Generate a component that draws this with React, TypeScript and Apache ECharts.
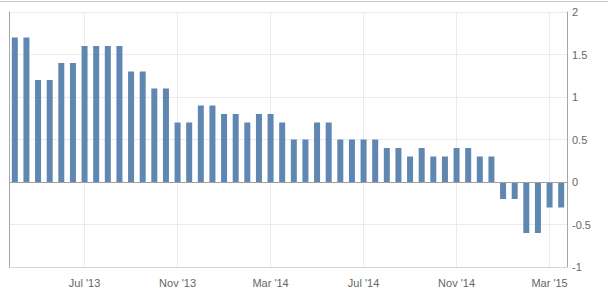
import React, { useEffect, useRef } from "react";
import * as echarts from "echarts";

const categories = [
  "2013-04-01", "2013-04-16", "2013-05-01", "2013-05-16", "2013-06-01", "2013-06-16",
  "2013-07-01", "2013-07-16", "2013-08-01", "2013-08-16", "2013-09-01", "2013-09-16",
  "2013-10-01", "2013-10-16", "2013-11-01", "2013-11-16", "2013-12-01", "2013-12-16",
  "2014-01-01", "2014-01-16", "2014-02-01", "2014-02-16", "2014-03-01", "2014-03-16",
  "2014-04-01", "2014-04-16", "2014-05-01", "2014-05-16", "2014-06-01", "2014-06-16",
  "2014-07-01", "2014-07-16", "2014-08-01", "2014-08-16", "2014-09-01", "2014-09-16",
  "2014-10-01", "2014-10-16", "2014-11-01", "2014-11-16", "2014-12-01", "2014-12-16",
  "2015-01-01", "2015-01-16", "2015-02-01", "2015-02-16", "2015-03-01", "2015-03-16",
];

const values = [
  1.7, 1.7, 1.2, 1.2, 1.4, 1.4,
  1.6, 1.6, 1.6, 1.6, 1.3, 1.3,
  1.1, 1.1, 0.7, 0.7, 0.9, 0.9,
  0.8, 0.8, 0.7, 0.8, 0.8, 0.7,
  0.5, 0.5, 0.7, 0.7, 0.5, 0.5,
  0.5, 0.5, 0.4, 0.4, 0.3, 0.4,
  0.3, 0.3, 0.4, 0.4, 0.3, 0.3,
  -0.2, -0.2, -0.6, -0.6, -0.3, -0.3,
];

const tickCategories = ["2013-07-01", "2013-11-01", "2014-03-01", "2014-07-01", "2014-11-01", "2015-03-01"];
const tickLabels = ["Jul '13", "Nov '13", "Mar '14", "Jul '14", "Nov '14", "Mar '15"];

const yTicks = { min: -1, max: 2, interval: 0.5 };

const FONT = "'Liberation Sans', Arial, sans-serif";

export default function App() {
  const ref = useRef<HTMLDivElement>(null);

  useEffect(() => {
    if (!ref.current) return;
    const chart = echarts.init(ref.current, undefined, { renderer: "svg" });
    const isTick = (_i: number, v: string) => tickCategories.indexOf(v) >= 0;
    chart.setOption({
      animation: false,
      backgroundColor: "#ffffff",
      textStyle: { fontFamily: FONT },
      grid: { left: 9, right: 41, top: 12, bottom: 27 },
      graphic: [
        {
          type: "rect",
          shape: { x: 0, y: 1, width: 608, height: 1 },
          style: { fill: "#c8c8c8" },
          silent: true,
        },
      ],
      xAxis: {
        type: "category",
        data: categories,
        boundaryGap: true,
        axisLine: { show: true, onZero: false, lineStyle: { color: "#ccd6eb", width: 1 } },
        axisTick: { show: false },
        axisLabel: {
          interval: isTick,
          formatter: (v: string) => tickLabels[tickCategories.indexOf(v)] ?? "",
          color: "#666666",
          fontSize: 11,
          fontFamily: FONT,
          margin: 10,
        },
        splitLine: {
          show: true,
          interval: isTick,
          alignWithLabel: true,
          lineStyle: { color: "#ebebeb", width: 1 },
        },
      },
      yAxis: [
        {
          type: "value",
          position: "right",
          min: yTicks.min,
          max: yTicks.max,
          interval: yTicks.interval,
          axisLine: { show: true, lineStyle: { color: "#a6a6a6", width: 1 } },
          axisTick: { show: false },
          axisLabel: { color: "#666666", fontSize: 11, fontFamily: FONT, margin: 5 },
          splitLine: { show: true, lineStyle: { color: "#ebebeb", width: 1 } },
        },
        {
          type: "value",
          position: "left",
          min: yTicks.min,
          max: yTicks.max,
          interval: yTicks.interval,
          axisLine: { show: true, lineStyle: { color: "#a6a6a6", width: 1 } },
          axisTick: { show: false },
          axisLabel: { show: false },
          splitLine: { show: false },
        },
      ],
      series: [
        {
          type: "bar",
          data: values,
          yAxisIndex: 0,
          barWidth: 6,
          itemStyle: { color: "#5f87b1" },
          markLine: {
            silent: true,
            symbol: ["none", "none"],
            label: { show: false },
            lineStyle: { color: "#a0a0a0", type: "solid", width: 1 },
            data: [{ yAxis: 0 }],
          },
        },
      ],
    });
    return () => chart.dispose();
  }, []);

  return (
    <div
      ref={ref}
      style={{ position: "fixed", left: 0, top: 0, width: 608, height: 294, background: "#fff" }}
    />
  );
}
